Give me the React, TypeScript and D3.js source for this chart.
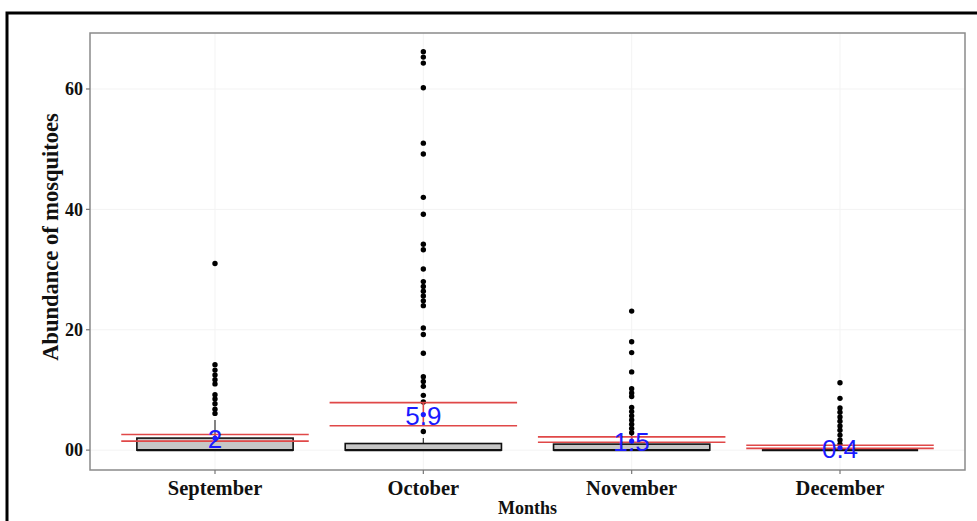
import React, { useRef, useEffect } from "react";
import * as d3 from "d3";

// boxplot summary per month
const months = ["September", "October", "November", "December"];
const boxQ1 = [0, 0, 0, 0];
const boxMedian = [0, 0, 0, 0];
const boxQ3 = [2, 1.1, 1, 0];
const whiskerTop = [5, 2, 2.5, 0];

// mean +/- error (red lines) and blue mean labels
const means = [2, 5.9, 1.5, 0.4];
const meanLabels = ["2", "5.9", "1.5", "0.4"];
const ciLow = [1.5, 4.05, 1.3, 0.3];
const ciHigh = [2.6, 7.9, 2.2, 0.8];

// outliers
const septemberOutliers = [31, 14.2, 13.3, 12.5, 11.7, 11, 9.2, 8.5, 7.7, 6.8, 6.1];
const octoberOutliers = [66.2, 65.3, 64.3, 60.2, 51, 49.2, 42, 39.2, 34.2, 33.3, 30.1, 28, 27.2, 26.4, 25.6, 24.8, 24, 20.3, 19.2, 16.1, 12.2, 11.4, 10.6, 9.1, 8, 3.1];
const novemberOutliers = [23.1, 18, 16.2, 13, 10.2, 9.5, 8.9, 7.1, 6.4, 5.7, 5, 4.3, 3.6, 2.9];
const decemberOutliers = [11.2, 8.6, 7, 6.3, 5.5, 4.8, 4, 3.3, 2.5, 1.7, 1.0];
const outliers = [septemberOutliers, octoberOutliers, novemberOutliers, decemberOutliers];

const yTicks = [0, 20, 40, 60];
const yTickLabels = ["00", "20", "40", "60"];

const W = 977;
const H = 521;
const left = 90, right = 965, top = 33, bottom = 470;

const App = () => {
  const ref = useRef(null);

  useEffect(() => {
    const svg = d3.select(ref.current);
    svg.selectAll("*").remove();

    const x = d3.scalePoint().domain(months).range([left, right]).padding(0.6);
    const step = x.step();
    const y = d3.scaleLinear().domain([-3.3, 69.3]).range([bottom, top]);
    const serif = "'Liberation Serif', 'Times New Roman', serif";

    svg.append("rect").attr("width", W).attr("height", H).attr("fill", "#fff");

    // outer frame
    svg.append("rect")
      .attr("x", 7).attr("y", 13).attr("width", W + 20).attr("height", H + 20)
      .attr("fill", "none").attr("stroke", "#000").attr("stroke-width", 3);

    // faint grid
    const grid = svg.append("g").attr("stroke", "#f3f3f3").attr("stroke-width", 1);
    yTicks.forEach(t => grid.append("line").attr("x1", left).attr("x2", right).attr("y1", y(t)).attr("y2", y(t)));
    months.forEach(m => grid.append("line").attr("x1", x(m)).attr("x2", x(m)).attr("y1", top).attr("y2", bottom));

    // panel border
    svg.append("rect")
      .attr("x", left).attr("y", top).attr("width", right - left).attr("height", bottom - top)
      .attr("fill", "none").attr("stroke", "#8a8a8a").attr("stroke-width", 1.5);

    // axes ticks + labels
    yTicks.forEach((t, i) => {
      svg.append("line").attr("x1", left - 4).attr("x2", left).attr("y1", y(t)).attr("y2", y(t))
        .attr("stroke", "#777").attr("stroke-width", 1.2);
      svg.append("text").attr("x", left - 7).attr("y", y(t)).attr("dy", "0.35em")
        .attr("text-anchor", "end").attr("font-family", serif).attr("font-weight", "bold")
        .attr("font-size", 18).attr("fill", "#111").text(yTickLabels[i]);
    });
    months.forEach(m => {
      svg.append("line").attr("x1", x(m)).attr("x2", x(m)).attr("y1", bottom).attr("y2", bottom + 4)
        .attr("stroke", "#777").attr("stroke-width", 1.2);
      svg.append("text").attr("x", x(m)).attr("y", 495)
        .attr("text-anchor", "middle").attr("font-family", serif).attr("font-weight", "bold")
        .attr("font-size", 20.5).attr("fill", "#111").text(m);
    });
    svg.append("text").attr("x", (left + right) / 2).attr("y", 514)
      .attr("text-anchor", "middle").attr("font-family", serif).attr("font-weight", "bold")
      .attr("font-size", 18).attr("fill", "#111").text("Months");
    svg.append("text").attr("transform", "translate(58,237) rotate(-90)")
      .attr("text-anchor", "middle").attr("font-family", serif).attr("font-weight", "bold")
      .attr("font-size", 22.5).attr("fill", "#111").text("Abundance of mosquitoes");

    // boxplots
    const boxW = step * 0.75;
    months.forEach((m, i) => {
      const cx = x(m);
      const g = svg.append("g");
      g.append("line").attr("x1", cx).attr("x2", cx).attr("y1", y(boxQ3[i])).attr("y2", y(whiskerTop[i]))
        .attr("stroke", "#333").attr("stroke-width", 1.2);
      g.append("rect")
        .attr("x", cx - boxW / 2).attr("width", boxW)
        .attr("y", y(boxQ3[i])).attr("height", Math.max(0, y(boxQ1[i]) - y(boxQ3[i])))
        .attr("fill", "#c6c6c6").attr("stroke", "#111").attr("stroke-width", 1.6);
      g.append("line").attr("x1", cx - boxW / 2).attr("x2", cx + boxW / 2)
        .attr("y1", y(boxMedian[i])).attr("y2", y(boxMedian[i]))
        .attr("stroke", "#111").attr("stroke-width", 2.2);
      g.selectAll("circle").data(outliers[i]).enter().append("circle")
        .attr("cx", cx).attr("cy", d => y(d)).attr("r", 2.7).attr("fill", "#000");
    });

    // mean +/- error lines
    const ciW = step * 0.9;
    months.forEach((m, i) => {
      const cx = x(m);
      const g = svg.append("g").attr("stroke", "#e04848").attr("stroke-width", 1.6);
      [ciLow[i], ciHigh[i]].forEach(v => {
        g.append("line").attr("x1", cx - ciW / 2).attr("x2", cx + ciW / 2).attr("y1", y(v)).attr("y2", y(v));
      });
      g.append("line").attr("x1", cx).attr("x2", cx).attr("y1", y(ciLow[i])).attr("y2", y(ciHigh[i]));
    });

    // mean points and labels
    months.forEach((m, i) => {
      const cx = x(m);
      svg.append("text").attr("x", cx).attr("y", y(means[i])).attr("dy", "0.38em")
        .attr("text-anchor", "middle").attr("font-family", "'Liberation Sans', Arial, sans-serif")
        .attr("font-size", 26).attr("fill", "#1a1aff").text(meanLabels[i]);
      svg.append("circle").attr("cx", cx).attr("cy", y(means[i])).attr("r", 2.6).attr("fill", "#1a1aff");
    });
  }, []);

  return (
    <svg ref={ref} width={W} height={H} style={{ position: "absolute", left: 0, top: 0, display: "block" }} />
  );
};

export default App;
